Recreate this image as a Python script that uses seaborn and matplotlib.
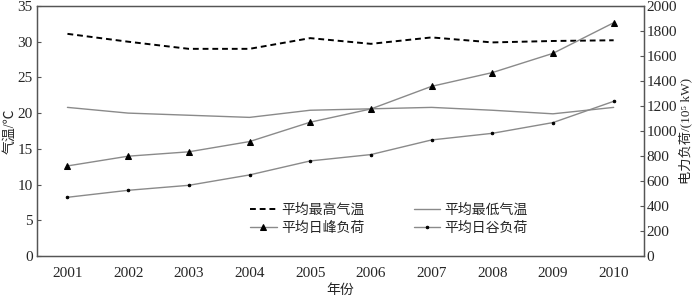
import matplotlib
matplotlib.use("Agg")
import matplotlib.pyplot as plt
import numpy as np
import pandas as pd
import seaborn as sns

years = [2001, 2002, 2003, 2004, 2005, 2006, 2007, 2008, 2009, 2010]
max_temp = [31.1, 30.0, 29.0, 29.0, 30.5, 29.7, 30.6, 29.9, 30.1, 30.2]
min_temp = [20.8, 20.0, 19.7, 19.4, 20.4, 20.6, 20.8, 20.4, 19.9, 20.8]
peak_load = [720, 798, 833, 915, 1070, 1176, 1357, 1467, 1621, 1866]
valley_load = [469, 525, 565, 648, 760, 811, 928, 981, 1067, 1237]

sns.set_style("white")
plt.rcParams["font.family"] = ["Liberation Serif", "Noto Sans CJK SC"]
plt.rcParams["axes.unicode_minus"] = False

df = pd.DataFrame({
    "year": years,
    "max_temp": max_temp,
    "min_temp": min_temp,
    "peak": peak_load,
    "valley": valley_load,
})

fig, ax = plt.subplots(figsize=(7, 3), dpi=100)
fig.subplots_adjust(left=0.053, right=0.92, top=0.98, bottom=0.147)
ax2 = ax.twinx()

grey = "#8a8a8a"
sns.lineplot(data=df, x="year", y="max_temp", ax=ax, color="black",
             linewidth=1.4, label="平均最高气温")
ax.lines[-1].set_dashes((3, 2))
sns.lineplot(data=df, x="year", y="min_temp", ax=ax, color=grey,
             linewidth=1.0, label="平均最低气温")
sns.lineplot(data=df, x="year", y="peak", ax=ax2, color=grey, linewidth=1.0,
             marker="^", markersize=3.8, markerfacecolor="black",
             markeredgecolor="black", label="平均日峰负荷")
sns.lineplot(data=df, x="year", y="valley", ax=ax2, color=grey, linewidth=1.0,
             marker="o", markersize=1.8, markerfacecolor="black",
             markeredgecolor="black", label="平均日谷负荷")

ax.set_xlim(2000.5, 2010.5)
ax.set_ylim(0, 35)
ax2.set_ylim(0, 2000)
ax.set_yticks(np.arange(0, 36, 5))
ax2.set_yticks(np.arange(0, 2001, 200))
ax.set_xticks(years)
ax.set_xticks(np.arange(2001.5, 2010, 1), minor=True)

fs = 11
ax.tick_params(axis="x", which="major", length=0, labelsize=fs, pad=8)
ax.tick_params(axis="x", which="minor", length=3, direction="in", color="#555555")
ax.tick_params(axis="y", length=3, direction="in", labelsize=fs, pad=3, color="#555555")
ax2.tick_params(axis="y", length=3, direction="in", labelsize=fs, pad=2, color="#555555")

for a in (ax, ax2):
    for s in a.spines.values():
        s.set_visible(True)
        s.set_color("#555555")
        s.set_linewidth(0.9)

ax.set_xlabel("年份", fontsize=10, labelpad=3)
ax.set_ylabel("气温/℃", fontsize=10, labelpad=1)
ax2.set_ylabel("电力负荷/(10⁵ kW)", fontsize=9.5, labelpad=1)

h1, l1 = ax.get_legend_handles_labels()
h2, l2 = ax2.get_legend_handles_labels()
for a in (ax, ax2):
    if a.get_legend():
        a.get_legend().remove()
order_h = [h1[0], h2[0], h1[1], h2[1]]
order_l = [l1[0], l2[0], l1[1], l2[1]]
ax2.legend(order_h, order_l, ncol=2, frameon=False, fontsize=10,
           loc="center", bbox_to_anchor=(0.58, 0.145), handlelength=1.9,
           handletextpad=0.3, columnspacing=3.6, labelspacing=0.35)

fig.savefig("out.png", dpi=100)
